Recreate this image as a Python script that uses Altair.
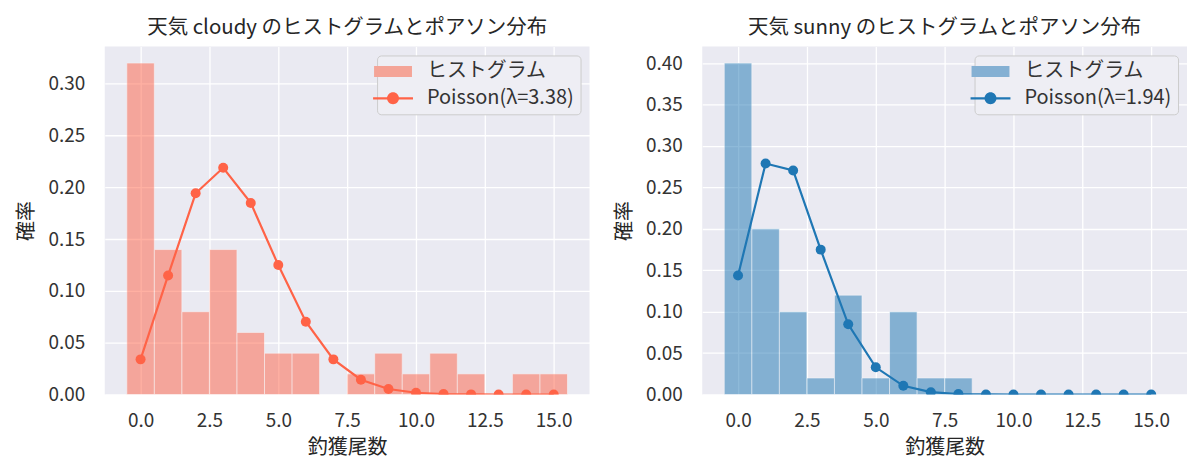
import altair as alt
import pandas as pd

# ---- data ----
k_values = list(range(16))

cloudy_hist = [0.32, 0.14, 0.08, 0.14, 0.06, 0.04, 0.04, 0.00, 0.02, 0.04, 0.02, 0.04, 0.02, 0.00, 0.02, 0.02]
cloudy_pois = [0.0340, 0.1150, 0.1943, 0.2189, 0.1850, 0.1250, 0.0704, 0.0340, 0.0144, 0.0054,
               0.0018, 0.0006, 0.0002, 0.0000, 0.0000, 0.0000]
cloudy_lambda = "3.38"

sunny_hist = [0.40, 0.20, 0.10, 0.02, 0.12, 0.02, 0.10, 0.02, 0.02, 0.00, 0.00, 0.00, 0.00, 0.00, 0.00, 0.00]
sunny_pois = [0.1437, 0.2788, 0.2704, 0.1749, 0.0848, 0.0329, 0.0106, 0.0029, 0.0007, 0.0002,
              0.0000, 0.0000, 0.0000, 0.0000, 0.0000, 0.0000]
sunny_lambda = "1.94"

x_ticks = [0.0, 2.5, 5.0, 7.5, 10.0, 12.5, 15.0]

FONT = "Noto Sans CJK JP"
BG = "#EAEAF2"
HIST_LABEL = "ヒストグラム"

# legend glyphs (symbolSize 400 -> 1 unit = 10 px)
BAR_PATH = "M-1.9,-0.55L1.9,-0.55L1.9,0.55L-1.9,0.55Z"
LINE_PATH = ("M-2,-0.11L2,-0.11L2,0.11L-2,0.11Z "
             "M0.6,0A0.6,0.6,0,1,1,-0.6,0A0.6,0.6,0,1,1,0.6,0Z")


def panel(name, hist, pois, lam, color, blend, ymax, yticks):
    pois_label = f"Poisson(λ={lam})"
    hdf = pd.DataFrame({"k": k_values, "p": hist})
    pdf = pd.DataFrame({"k": k_values, "p": pois, "series": pois_label})

    xscale = alt.Scale(domain=[-1.3, 16.3], nice=False, zero=False)
    yscale = alt.Scale(domain=[0, ymax], nice=False)

    xaxis = alt.Axis(values=x_ticks, format=".1f", title="釣獲尾数", grid=True,
                     gridColor="white", gridWidth=1.3, domain=False, ticks=False, tickSize=0,
                     labelPadding=17, labelFontSize=19, labelColor="#333333", labelFont=FONT,
                     titleFontSize=20, titleFont=FONT, titleColor="#262626", titleFontWeight="normal",
                     titlePadding=7)
    yaxis = alt.Axis(values=yticks, format=".2f", title="確率", grid=True,
                     gridColor="white", gridWidth=1.3, domain=False, ticks=False, tickSize=0,
                     labelPadding=20, labelFontSize=19, labelColor="#333333", labelFont=FONT,
                     titleFontSize=20, titleFont=FONT, titleColor="#262626", titleFontWeight="normal",
                     minExtent=62, maxExtent=62, titlePadding=6)

    bars = alt.Chart(hdf).transform_filter("datum.p > 0").transform_calculate(
        x0="datum.k - 0.5", x1="datum.k + 0.5"
    ).mark_rect(color=color, opacity=0.5, stroke="white", strokeWidth=1, strokeOpacity=0.6).encode(
        x=alt.X("x0:Q", scale=xscale, axis=xaxis),
        x2="x1:Q",
        y=alt.Y("p:Q", scale=yscale, axis=yaxis),
        y2=alt.datum(0),
    )

    line = alt.Chart(pdf).mark_line(color=color, strokeWidth=2.2, clip=True).encode(
        x=alt.X("k:Q", scale=xscale),
        y=alt.Y("p:Q", scale=yscale),
    )

    points = alt.Chart(pdf).mark_circle(color=color, size=100, opacity=1, clip=True).encode(
        x=alt.X("k:Q", scale=xscale),
        y=alt.Y("p:Q", scale=yscale),
    )

    legend = alt.Legend(title=None, orient="top-right", offset=9,
                        fillColor="#EEEEF4", strokeColor="#CCCCCC", cornerRadius=4,
                        padding=6, labelFontSize=20, labelFont=FONT, labelColor="#333333",
                        symbolSize=400, symbolStrokeWidth=0, labelOffset=24, rowPadding=7,
                        symbolOpacity=1)

    legend_layer = alt.Chart(pdf).mark_point(filled=True, size=0, opacity=0).encode(
        x=alt.X("k:Q", scale=xscale),
        y=alt.Y("p:Q", scale=yscale),
        color=alt.Color("series:N", scale=alt.Scale(domain=[HIST_LABEL, pois_label], range=[blend, color]),
                        legend=legend),
        shape=alt.Shape("series:N", scale=alt.Scale(domain=[HIST_LABEL, pois_label], range=[BAR_PATH, LINE_PATH]),
                        legend=legend),
    )

    return alt.layer(bars, line, points, legend_layer).properties(
        width=486, height=349,
        title=alt.TitleParams(f"天気 {name} のヒストグラムとポアソン分布", fontSize=20.5, font=FONT,
                              color="#262626", fontWeight="normal", offset=8),
    )


left = panel("cloudy", cloudy_hist, cloudy_pois, cloudy_lambda, "#FF6347", "#F4A497", 0.336,
             [0.0, 0.05, 0.10, 0.15, 0.20, 0.25, 0.30])
right = panel("sunny", sunny_hist, sunny_pois, sunny_lambda, "#1F77B4", "#84B0D3", 0.42,
              [0.0, 0.05, 0.10, 0.15, 0.20, 0.25, 0.30, 0.35, 0.40])

chart = alt.hconcat(left, right, spacing=25).resolve_scale(
    color="independent", shape="independent", x="independent", y="independent"
).resolve_legend(color="independent", shape="independent").properties(
    padding={"left": 9, "top": 9, "right": 5, "bottom": 3}
).configure(
    background="white",
    view=alt.ViewConfig(fill=BG, strokeWidth=0),
)

chart.save("out.html", embed_options={"renderer": "svg", "actions": False})
